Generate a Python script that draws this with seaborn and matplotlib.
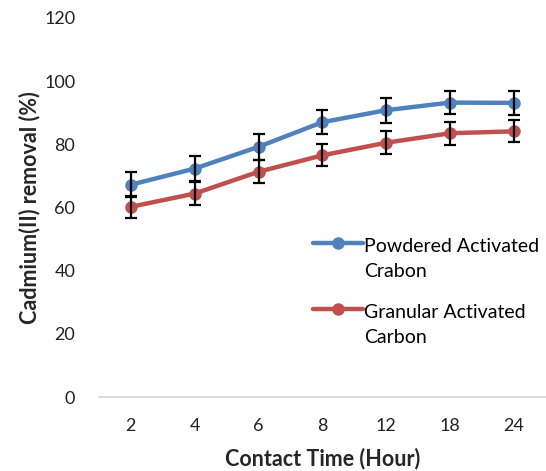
import matplotlib
matplotlib.use("Agg")
import matplotlib.pyplot as plt
from matplotlib.legend_handler import HandlerLine2D
import seaborn as sns
import pandas as pd

# Contact time categories (hours) and removal efficiencies (%)
contact_time = ["2", "4", "6", "8", "12", "18", "24"]
pac_removal = [67.2, 72.3, 79.2, 87.0, 90.8, 93.2, 93.1]
gac_removal = [60.2, 64.4, 71.3, 76.5, 80.5, 83.5, 84.1]
pac_error = [4.0, 4.0, 4.1, 3.9, 4.0, 3.7, 3.8]
gac_error = [3.5, 3.6, 3.6, 3.5, 3.6, 3.6, 3.5]
series_names = ["Powdered Activated\nCrabon", "Granular Activated\nCarbon"]
y_ticks = [0, 20, 40, 60, 80, 100, 120]

sns.set_theme(style="white")
plt.rcParams["font.family"] = ["Lato", "DejaVu Sans"]

df = pd.DataFrame({
    "time": contact_time * 2,
    "removal": pac_removal + gac_removal,
    "err": pac_error + gac_error,
    "series": [series_names[0]] * len(contact_time) + [series_names[1]] * len(contact_time),
})

colors = {series_names[0]: "#4F81BD", series_names[1]: "#C0504D"}


class TopLineHandler(HandlerLine2D):
    """Legend handle aligned with the first line of a two-line label."""

    def create_artists(self, legend, orig_handle, xdescent, ydescent,
                       width, height, fontsize, trans):
        artists = super().create_artists(legend, orig_handle, xdescent, ydescent,
                                          width, height, fontsize, trans)
        shift = 0.85 * fontsize
        for a in artists:
            a.set_ydata([y + shift for y in a.get_ydata()])
        return artists


fig = plt.figure(figsize=(5.46, 4.71), dpi=100)
ax = fig.add_axes([0.181, 0.157, 0.819, 0.805])

sns.lineplot(data=df, x="time", y="removal", hue="series", palette=colors,
             marker="o", markersize=9, markeredgewidth=0, linewidth=3.2,
             sort=False, ax=ax, zorder=3)

for name in series_names:
    sub = df[df["series"] == name]
    ax.errorbar(sub["time"], sub["removal"], yerr=sub["err"], fmt="none",
                ecolor="black", elinewidth=1.6, capsize=4, capthick=1.6, zorder=4)

ax.set_xlim(-0.5, len(contact_time) - 0.5)
ax.set_ylim(0, 120)
ax.set_yticks(y_ticks)
ax.tick_params(axis="both", length=0, labelsize=13, colors="#222222")
ax.tick_params(axis="x", pad=15)
ax.tick_params(axis="y", pad=17)

for side in ["top", "right", "left"]:
    ax.spines[side].set_visible(False)
ax.spines["bottom"].set_color("#D9D9D9")
ax.spines["bottom"].set_linewidth(1.3)

ax.set_xlabel("Contact Time (Hour)", fontsize=15.5, fontweight="bold", labelpad=10)
ax.set_ylabel("Cadmium(II) removal (%)", fontsize=15.5, fontweight="bold", labelpad=3)

handles, labels = ax.get_legend_handles_labels()
leg = ax.legend(handles, labels, loc="upper left", bbox_to_anchor=(0.573, 0.4945),
                bbox_transform=fig.transFigure, frameon=False, fontsize=14,
                handlelength=2.6, handletextpad=0.05, labelspacing=1.2,
                borderpad=0, borderaxespad=0,
                handler_map={h: TopLineHandler() for h in handles})
for t in leg.get_texts():
    t.set_linespacing(1.6)
    t.set_color("#000000")

fig.savefig("out.png", dpi=100)
